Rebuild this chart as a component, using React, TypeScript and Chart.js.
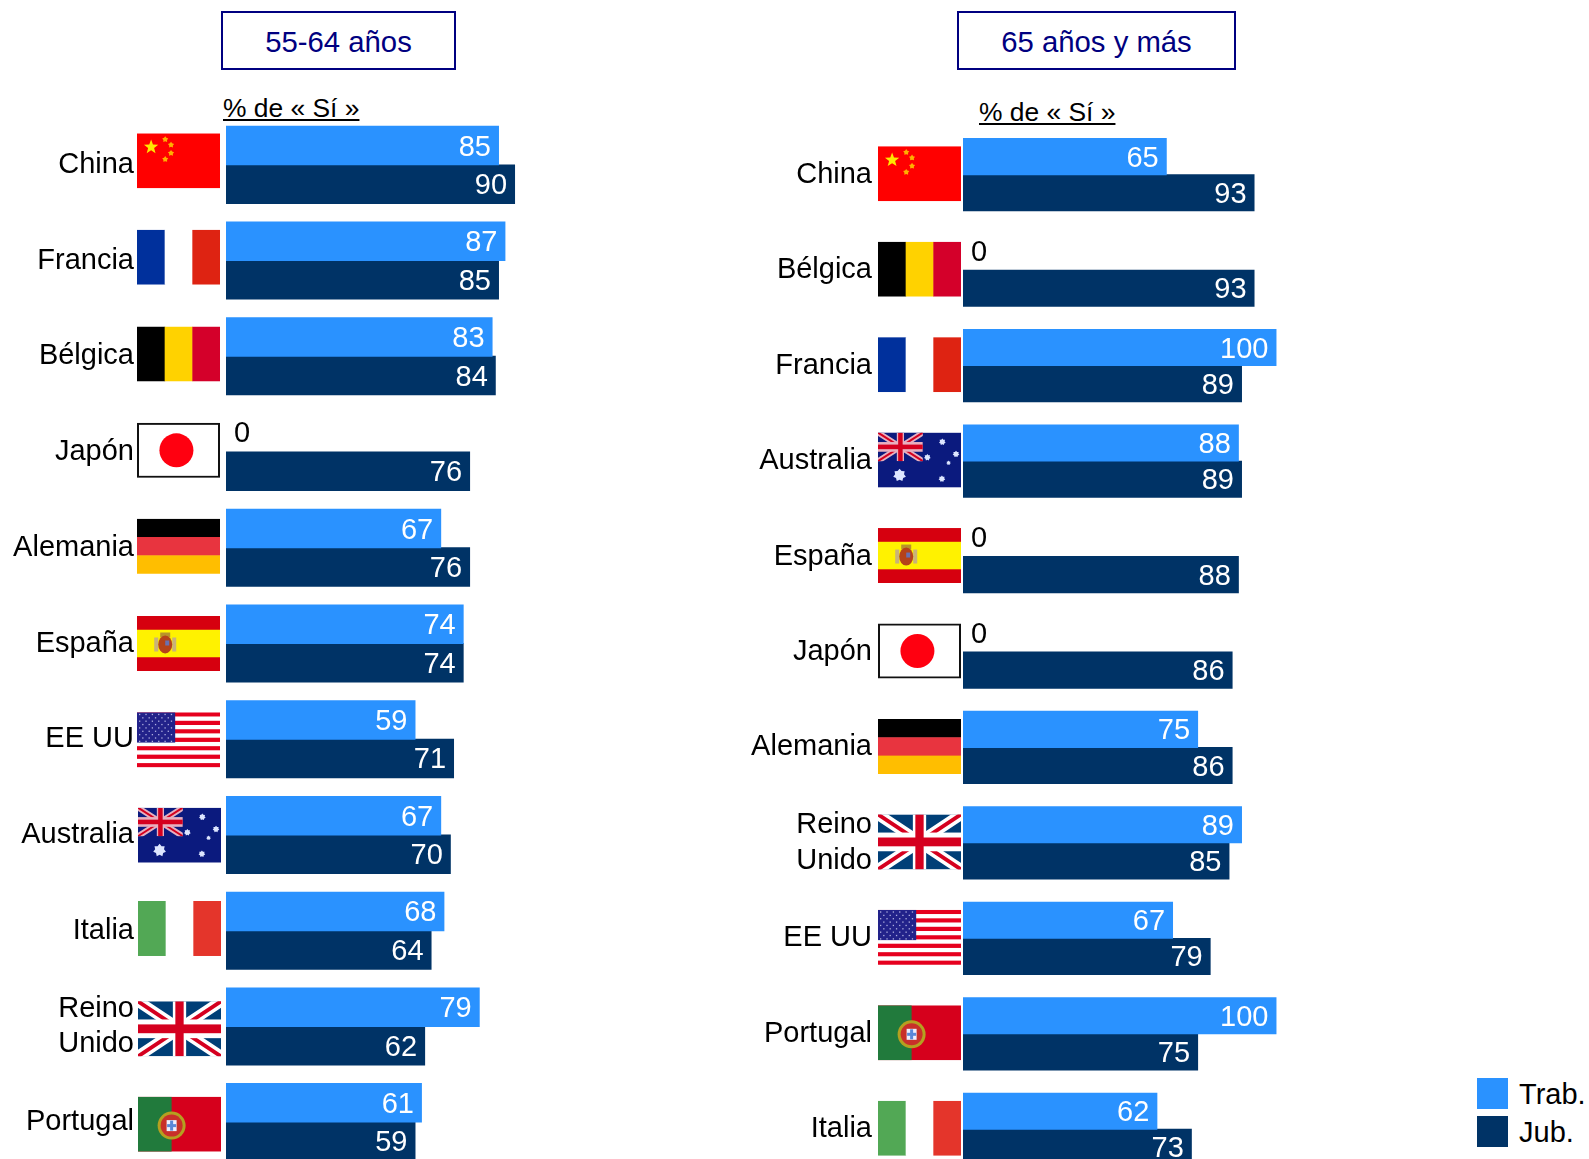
import React, { useEffect, useRef } from "react";
import { Chart, registerables } from "chart.js";

Chart.register(...registerables);

const FONT = '"Liberation Sans", Arial, sans-serif';
const LIGHT = "#2A92FF";
const DARK = "#003366";
const NAVY = "#000080";

const seriesNames = ["Trab.", "Jub."];

const categoriesA = ["China", "Francia", "Bélgica", "Japón", "Alemania", "España", "EE UU", "Australia", "Italia", "Reino Unido", "Portugal"];
const trabA = [85, 87, 83, 0, 67, 74, 59, 67, 68, 79, 61];
const jubA = [90, 85, 84, 76, 76, 74, 71, 70, 64, 62, 59];

const categoriesB = ["China", "Bélgica", "Francia", "Australia", "España", "Japón", "Alemania", "Reino Unido", "EE UU", "Portugal", "Italia"];
const trabB = [65, 0, 100, 88, 0, 0, 75, 89, 67, 100, 62];
const jubB = [93, 93, 89, 89, 88, 86, 86, 85, 79, 75, 73];

type Ctx = CanvasRenderingContext2D;

function star(c: Ctx, x: number, y: number, r: number, n = 5, inner = 0.42) {
  c.beginPath();
  for (let i = 0; i < n * 2; i++) {
    const a = -Math.PI / 2 + (i * Math.PI) / n;
    const rr = i % 2 ? r * inner : r;
    c.lineTo(x + Math.cos(a) * rr, y + Math.sin(a) * rr);
  }
  c.closePath();
  c.fill();
}
function vbands(c: Ctx, w: number, h: number, cols: string[]) {
  cols.forEach((col, i) => {
    c.fillStyle = col;
    c.fillRect((i * w) / cols.length, 0, w / cols.length + 0.5, h);
  });
}
function union(c: Ctx, w: number, h: number, bg: string, tint = "#fff") {
  c.fillStyle = bg;
  c.fillRect(0, 0, w, h);
  const diag = (col: string, lw: number) => {
    c.strokeStyle = col;
    c.lineWidth = lw;
    c.beginPath();
    c.moveTo(0, 0);
    c.lineTo(w, h);
    c.moveTo(w, 0);
    c.lineTo(0, h);
    c.stroke();
  };
  diag(tint, h * 0.2);
  diag("#D5001F", h * 0.07);
  c.fillStyle = tint;
  c.fillRect(w * 0.42, 0, w * 0.16, h);
  c.fillRect(0, h * 0.33, w, h * 0.34);
  c.fillStyle = "#D5001F";
  c.fillRect(w * 0.45, 0, w * 0.1, h);
  c.fillRect(0, h * 0.42, w, h * 0.16);
}

const flags: Record<string, (c: Ctx, w: number, h: number) => void> = {
  China(c, w, h) {
    c.fillStyle = "#FF0000";
    c.fillRect(0, 0, w, h);
    c.fillStyle = "#FFE800";
    star(c, w * 0.17, h * 0.25, 7.5);
    c.fillStyle = "#FFB000";
    [[0.34, 0.11], [0.41, 0.21], [0.41, 0.36], [0.34, 0.47]].forEach(([a, b]) => star(c, w * a, h * b, 3.2, 5, 0.6));
  },
  Francia(c, w, h) {
    vbands(c, w, h, ["#00309C", "#FFFFFF", "#DE2312"]);
  },
  "Bélgica"(c, w, h) {
    vbands(c, w, h, ["#000000", "#FFD200", "#D4002A"]);
  },
  "Japón"(c, w, h) {
    c.fillStyle = "#fff";
    c.fillRect(0, 0, w, h);
    c.strokeStyle = "#111";
    c.lineWidth = 2;
    c.strokeRect(1, 1, w - 2, h - 2);
    c.fillStyle = "#FF0010";
    c.beginPath();
    c.arc(w * 0.475, h * 0.5, 17, 0, Math.PI * 2);
    c.fill();
  },
  Alemania(c, w, h) {
    ["#000000", "#E8343F", "#FFBE00"].forEach((col, i) => {
      c.fillStyle = col;
      c.fillRect(0, (i * h) / 3, w, h / 3 + 0.5);
    });
  },
  "España"(c, w, h) {
    c.fillStyle = "#D6000F";
    c.fillRect(0, 0, w, h);
    c.fillStyle = "#FFF200";
    c.fillRect(0, h * 0.25, w, h * 0.5);
    const x = w * 0.34;
    const y = h * 0.5;
    c.fillStyle = "#C9B27A";
    c.fillRect(x - 11, y - 6, 4, 14);
    c.fillRect(x + 7, y - 6, 4, 14);
    c.fillStyle = "#B8932A";
    c.fillRect(x - 5, y - 11, 10, 5);
    c.fillStyle = "#B5421A";
    c.beginPath();
    c.ellipse(x, y + 1, 7, 9, 0, 0, Math.PI * 2);
    c.fill();
    c.fillStyle = "#6A70B0";
    c.fillRect(x, y - 3, 4, 5);
  },
  "EE UU"(c, w, h) {
    for (let i = 0; i < 13; i++) {
      c.fillStyle = i % 2 ? "#FFFFFF" : "#E6001E";
      c.fillRect(0, (i * h) / 13, w, h / 13 + 0.3);
    }
    const cw = w * 0.46;
    const ch = h * 0.55;
    c.fillStyle = "#22228A";
    c.fillRect(0, 0, cw, ch);
    c.fillStyle = "#B0B0E0";
    for (let r = 0; r < 9; r++) {
      for (let k = 0; k < (r % 2 ? 5 : 6); k++) {
        c.fillRect(2 + (k + (r % 2 ? 0.5 : 0)) * (cw / 6), 1.5 + r * (ch / 9), 1.3, 1.3);
      }
    }
  },
  Australia(c, w, h) {
    c.fillStyle = "#0B1A7E";
    c.fillRect(0, 0, w, h);
    c.save();
    c.beginPath();
    c.rect(0, 0, w * 0.54, h * 0.52);
    c.clip();
    union(c, w * 0.54, h * 0.52, "#0B1A7E", "#E8B0C0");
    c.restore();
    c.fillStyle = "#DDE6FF";
    [[0.775, 0.17, 3.4], [0.94, 0.39, 3.4], [0.595, 0.45, 3.4], [0.85, 0.55, 2.3], [0.77, 0.84, 3.4], [0.26, 0.775, 6.5]].forEach(([a, b, r]) =>
      star(c, w * a, h * b, r, 7, 0.7)
    );
  },
  Italia(c, w, h) {
    vbands(c, w, h, ["#52A855", "#FFFFFF", "#E4352B"]);
  },
  "Reino Unido"(c, w, h) {
    union(c, w, h, "#003F77");
  },
  Portugal(c, w, h) {
    c.fillStyle = "#D6001C";
    c.fillRect(0, 0, w, h);
    c.fillStyle = "#217A3C";
    c.fillRect(0, 0, w * 0.405, h);
    const x = w * 0.405;
    const y = h * 0.527;
    const disc = (r: number, col: string) => {
      c.fillStyle = col;
      c.beginPath();
      c.arc(x, y, r, 0, Math.PI * 2);
      c.fill();
    };
    disc(14, "#B5A020");
    disc(11, "#C8302A");
    c.fillStyle = "#EEF0FF";
    c.fillRect(x - 5, y - 5.5, 10, 11);
    c.fillStyle = "#5A88D8";
    c.fillRect(x - 1.5, y - 5, 3, 10);
    c.fillRect(x - 4.5, y - 1.5, 9, 3);
  },
};

const flagPlugin = {
  id: "flags",
  afterDraw(chart: any, _a: any, opts: any) {
    const c: Ctx = chart.ctx;
    const scale = chart.scales.y;
    const keys: string[] = opts.keys;
    keys.forEach((k, i) => {
      const y = scale.getPixelForTick(i) + opts.nudges[i];
      const x = opts.xs[i];
      const w = 83;
      const h = 55;
      c.save();
      c.translate(x, y - h / 2);
      c.beginPath();
      c.rect(0, 0, w, h);
      c.clip();
      (c as any).filter = "blur(0.55px)";
      flags[k](c, w, h);
      (c as any).filter = "none";
      c.restore();
    });
  },
};

const valueLabels = {
  id: "valueLabels",
  afterDatasetsDraw(chart: any) {
    const c: Ctx = chart.ctx;
    c.save();
    c.font = `29px ${FONT}`;
    c.textBaseline = "middle";
    chart.data.datasets.forEach((ds: any, di: number) => {
      chart.getDatasetMeta(di).data.forEach((el: any, i: number) => {
        const v = ds.data[i];
        if (v === 0) {
          c.fillStyle = "#000";
          c.textAlign = "left";
          c.fillText(String(v), el.base + 8, el.y + 1);
        } else {
          c.fillStyle = "#fff";
          c.textAlign = "right";
          c.fillText(String(v), el.x - 8, el.y + 2);
        }
      });
    });
    c.restore();
  },
};

type PanelProps = {
  cats: string[];
  trab: number[];
  jub: number[];
  left: number;
  top: number;
  width: number;
  height: number;
  axisWidth: number;
  tickPad: number;
  slot: number;
  flagXs: number[];
  nudges: number[];
};

function Panel(p: PanelProps) {
  const ref = useRef<HTMLCanvasElement>(null);
  useEffect(() => {
    const labels = p.cats.map((s) => (s === "Reino Unido" ? ["Reino", "Unido"] : s));
    const chart = new Chart(ref.current!, {
      type: "bar",
      data: {
        labels,
        datasets: [
          { label: seriesNames[0], data: p.trab, backgroundColor: LIGHT, barPercentage: 1.025, categoryPercentage: p.slot, borderWidth: 0 },
          { label: seriesNames[1], data: p.jub, backgroundColor: DARK, barPercentage: 1.025, categoryPercentage: p.slot, borderWidth: 0 },
        ],
      },
      options: {
        indexAxis: "y",
        animation: false,
        responsive: false,
        maintainAspectRatio: false,
        devicePixelRatio: 1,
        layout: { padding: 0 },
        events: [],
        plugins: {
          legend: { display: false },
          tooltip: { enabled: false },
          title: { display: false },
          flags: { keys: p.cats, xs: p.flagXs, nudges: p.nudges },
        } as any,
        scales: {
          x: { display: false, min: 0, max: 104, grid: { display: false } },
          y: {
            grid: { display: false, drawTicks: false },
            border: { display: false },
            afterFit(scale: any) {
              scale.width = p.axisWidth;
              scale.paddingTop = 0;
              scale.paddingBottom = 0;
            },
            ticks: {
              autoSkip: false,
              padding: p.tickPad,
              color: "#000",
              maxRotation: 0,
              minRotation: 0,
              font: { family: FONT, size: 29, lineHeight: 1.22 },
            },
          },
        },
      },
      plugins: [valueLabels, flagPlugin],
    } as any);
    return () => chart.destroy();
  }, []);
  return (
    <canvas
      ref={ref}
      width={p.width}
      height={p.height}
      style={{ position: "absolute", left: p.left, top: p.top, width: p.width, height: p.height, display: "block" }}
    />
  );
}

function TitleBox({ text, left, width }: { text: string; left: number; width: number }) {
  return (
    <div
      style={{
        position: "absolute",
        left,
        top: 11,
        width,
        height: 59,
        paddingTop: 2,
        boxSizing: "border-box",
        border: `2px solid ${NAVY}`,
        color: NAVY,
        font: `29.3px ${FONT}`,
        display: "flex",
        alignItems: "center",
        justifyContent: "center",
      }}
    >
      {text}
    </div>
  );
}

function Unit({ left, top }: { left: number; top: number }) {
  return (
    <div style={{ position: "absolute", left, top, font: `26.4px/30px ${FONT}`, color: "#000", textDecoration: "underline", whiteSpace: "pre" }}>
      {"% de « Sí »"}
    </div>
  );
}

function LegendRow({ color, label, top }: { color: string; label: string; top: number }) {
  return (
    <>
      <div style={{ position: "absolute", left: 1477, top, width: 31, height: 31, background: color }} />
      <div style={{ position: "absolute", left: 1519, top, font: `29px/32px ${FONT}`, color: "#000" }}>{label}</div>
    </>
  );
}

export default function App() {
  return (
    <div style={{ position: "absolute", left: 0, top: 0, width: 1589, height: 1159, overflow: "hidden", background: "#fff" }}>
      <TitleBox text="55-64 años" left={221} width={235} />
      <TitleBox text="65 años y más" left={957} width={279} />
      <Unit left={223} top={93} />
      <Unit left={979} top={97} />
      <Panel
        cats={categoriesA}
        trab={trabA}
        jub={jubA}
        left={0}
        top={117}
        width={560}
        height={1053}
        axisWidth={226}
        tickPad={92}
        slot={0.805}
        flagXs={[137, 137, 137, 137, 137, 137, 137, 138, 138, 138, 138]}
        nudges={[-4, -3.4, -2.3, -1.7, -1.6, 0, 0.6, 0.2, -2.2, 2.4, 2]}
      />
      <Panel
        cats={categoriesB}
        trab={trabB}
        jub={jubB}
        left={700}
        top={127}
        width={589}
        height={1050}
        axisWidth={263}
        tickPad={91}
        slot={0.758}
        flagXs={[178, 178, 178, 178, 178, 178, 178, 178, 178, 178, 178]}
        nudges={[-1, -1, -1, -1, -1, -1, -1, -1, -1, -1, -1]}
      />
      <LegendRow color={LIGHT} label={seriesNames[0]} top={1078} />
      <LegendRow color={DARK} label={seriesNames[1]} top={1116} />
    </div>
  );
}
